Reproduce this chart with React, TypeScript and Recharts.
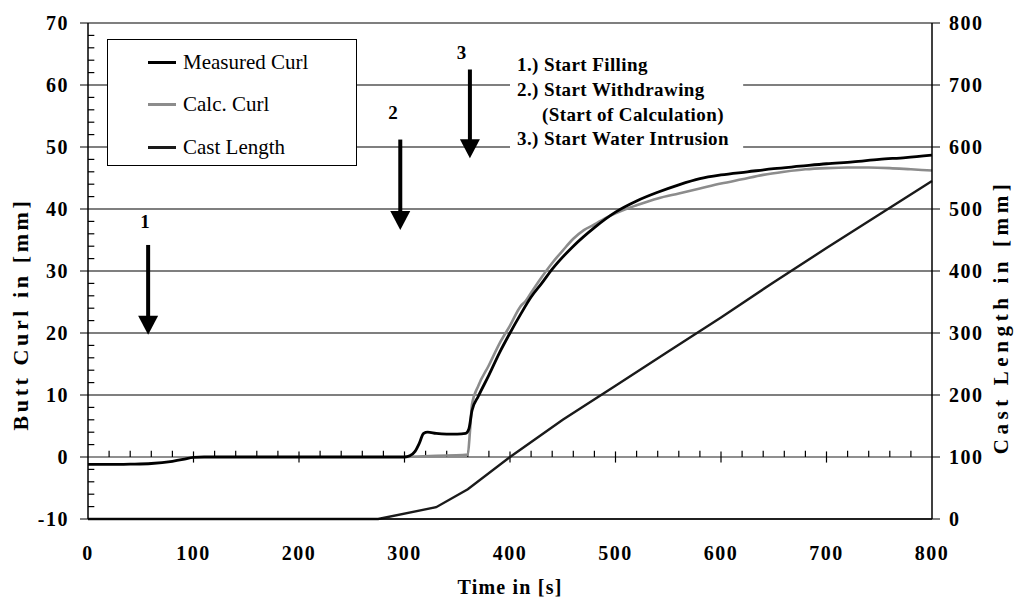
import React from "react"
import {
  ComposedChart,
  Line,
  XAxis,
  YAxis,
  CartesianGrid,
  ReferenceLine,
  ReferenceArea,
  ReferenceDot,
  Legend,
} from "recharts"

const FONT = '"Liberation Serif", "Times New Roman", serif'

// time axis [s]
const timeTicks = [0, 100, 200, 300, 400, 500, 600, 700, 800]
const curlTicks = [-10, 0, 10, 20, 30, 40, 50, 60, 70]
const lengthTicks = [0, 100, 200, 300, 400, 500, 600, 700, 800]

// Measured Curl [mm]
const measuredTime = [0, 20, 40, 60, 80, 90, 100, 110, 150, 200, 250, 300, 305, 310, 314, 318, 322, 330, 340, 350, 358, 361, 364, 370, 380, 390, 400, 410, 420, 430, 440, 460, 480, 500, 520, 540, 560, 580, 600, 625, 650, 675, 700, 725, 750, 775, 800]
const measuredCurl = [-1.2, -1.2, -1.15, -1.05, -0.7, -0.4, -0.05, 0, 0, 0, 0, 0, 0.2, 0.9, 2.2, 3.8, 4.0, 3.8, 3.7, 3.7, 3.8, 4.5, 7.5, 9.8, 13.2, 16.8, 20.0, 23.0, 25.8, 28.0, 30.3, 34.0, 37.0, 39.5, 41.3, 42.7, 43.9, 44.9, 45.5, 46.0, 46.5, 46.9, 47.3, 47.6, 48.0, 48.3, 48.7]

// Calc. Curl [mm]
const calcTime = [300, 330, 355, 360, 362, 364, 370, 380, 390, 400, 410, 415, 420, 430, 440, 450, 460, 470, 480, 490, 500, 510, 520, 540, 560, 580, 600, 620, 640, 660, 680, 700, 720, 740, 760, 780, 800]
const calcCurl = [0, 0.2, 0.3, 0.4, 4, 8.5, 11.5, 14.8, 18.3, 21.2, 24.3, 25.2, 26.5, 29, 31.3, 33.3, 35.2, 36.6, 37.5, 38.5, 39.3, 40.0, 40.6, 41.7, 42.5, 43.3, 44.1, 44.8, 45.5, 46.0, 46.4, 46.6, 46.7, 46.7, 46.6, 46.4, 46.2]

// Cast Length [mm]
const castTime = [0, 275, 330, 360, 400, 450, 500, 550, 600, 650, 700, 750, 800]
const castLength = [0, 0, 19, 48, 100, 160, 215, 270, 325, 382, 437, 491, 545]

// event arrows: number, time, shaft top, tip, label position
const arrowLabels = ["1", "2", "3"]
const arrowTime = [57, 296, 362]
const arrowTop = [34.2, 51.2, 62.5]
const arrowTip = [19.7, 36.6, 48.2]
const arrowLabelTime = [54, 289, 354]
const arrowLabelCurl = [38, 55.5, 65.2]

const notes = ["1.) Start Filling", "2.) Start Withdrawing", "(Start of Calculation)", "3.) Start Water Intrusion"]

const measuredData = measuredTime.map((t, i) => ({ t, v: measuredCurl[i] }))
const calcData = calcTime.map((t, i) => ({ t, v: calcCurl[i] }))
const castData = castTime.map((t, i) => ({ t, v: castLength[i] }))

const minorCurl: number[] = []
for (let v = -8; v < 70; v += 2) if (v % 10 !== 0) minorCurl.push(v)
const minorTime: number[] = []
for (let t = 20; t < 800; t += 20) if (t % 100 !== 0) minorTime.push(t)

const tickStyle = { fill: "#000", fontSize: 20, fontWeight: 700, fontFamily: FONT, letterSpacing: 1.5 }

function LegendBox({ payload }: any) {
  return (
    <div
      style={{
        width: 248,
        height: 125,
        border: "1px solid #000",
        background: "#fff",
        fontFamily: FONT,
        fontSize: 21,
        position: "relative",
      }}
    >
      {(payload || []).map((p: any, i: number) => (
        <div key={p.value} style={{ position: "absolute", left: 40, top: 22 + i * 42.5 - 12, display: "flex", alignItems: "center", height: 24 }}>
          <span style={{ display: "inline-block", width: 28, height: 0, borderTop: `3px solid ${p.color}` }} />
          <span style={{ marginLeft: 7, color: "#000", whiteSpace: "nowrap" }}>{p.value}</span>
        </div>
      ))}
    </div>
  )
}

function renderNotes(props: any) {
  const { x, y } = props.viewBox
  const rows = [
    { dx: 7, dy: 17 },
    { dx: 7, dy: 42 },
    { dx: 32, dy: 67 },
    { dx: 7, dy: 91 },
  ]
  return (
    <g>
      {notes.map((n, i) => (
        <text
          key={n}
          x={x + rows[i].dx}
          y={y + rows[i].dy}
          dominantBaseline="central"
          fontFamily={FONT}
          fontWeight={700}
          fontSize={19}
          letterSpacing={0.4}
          fill="#000"
        >
          {n}
        </text>
      ))}
    </g>
  )
}

export default function App() {
  return (
    <div style={{ position: "absolute", left: 0, top: 0, width: 1014, height: 603, background: "#fff" }}>
      <ComposedChart width={1014} height={603} margin={{ top: 23, right: 22, bottom: 34, left: 28 }}>
        <CartesianGrid
          yAxisId="left"
          vertical={false}
          horizontalValues={[-10, 10, 20, 30, 40, 50, 60, 70]}
          stroke="#000"
          strokeWidth={1.2}
        />
        <XAxis
          dataKey="t"
          type="number"
          domain={[0, 800]}
          ticks={timeTicks}
          allowDuplicatedCategory={false}
          tickLine={false}
          tickSize={0}
          tickMargin={27}
          height={50}
          axisLine={{ stroke: "#000", strokeWidth: 1.5 }}
          tick={tickStyle}
          label={(p: any) => {
            const vb = p.viewBox
            return (
              <text x={vb.x + vb.width / 2} y={587} textAnchor="middle" dominantBaseline="central" fontFamily={FONT} fontWeight={700} fontSize={20} letterSpacing={1.2} fill="#000">
                Time in [s]
              </text>
            )
          }}
        />
        <YAxis
          yAxisId="left"
          type="number"
          domain={[-10, 70]}
          ticks={curlTicks}
          width={60}
          tickSize={8}
          tickMargin={11}
          tickLine={{ stroke: "#000" }}
          axisLine={{ stroke: "#000", strokeWidth: 1.5 }}
          tick={tickStyle}
          label={() => (
            <text x={20} y={314} transform="rotate(-90, 20, 314)" textAnchor="middle" dominantBaseline="central" fontFamily={FONT} fontWeight={700} fontSize={22} letterSpacing={3.6} fill="#000">
              Butt Curl in [mm]
            </text>
          )}
        />
        <YAxis
          yAxisId="right"
          orientation="right"
          type="number"
          domain={[0, 800]}
          ticks={lengthTicks}
          width={60}
          tickSize={8}
          tickMargin={9}
          tickLine={{ stroke: "#000" }}
          axisLine={{ stroke: "#000", strokeWidth: 1.5 }}
          tick={tickStyle}
          label={() => (
            <text x={1001} y={317} transform="rotate(-90, 1001, 317)" textAnchor="middle" dominantBaseline="central" fontFamily={FONT} fontWeight={700} fontSize={21} letterSpacing={4.6} fill="#000">
              Cast Length in [mm]
            </text>
          )}
        />

        <ReferenceLine yAxisId="left" y={0} stroke="#6a6a6a" strokeWidth={1.5} />
        {minorTime.map((t) => (
          <ReferenceLine key={"mt" + t} yAxisId="left" segment={[{ x: t, y: 0 }, { x: t, y: 1 }]} stroke="#000" strokeWidth={1.2} />
        ))}
        {timeTicks.slice(1, -1).map((t) => (
          <ReferenceLine key={"Mt" + t} yAxisId="left" segment={[{ x: t, y: -0.9 }, { x: t, y: 0.9 }]} stroke="#000" strokeWidth={1.2} />
        ))}
        {minorCurl.map((v) => (
          <ReferenceLine key={"mc" + v} yAxisId="left" segment={[{ x: 0, y: v }, { x: 6, y: v }]} stroke="#000" strokeWidth={1.2} />
        ))}

        <ReferenceArea yAxisId="left" x1={400} x2={621} y1={49.5} y2={66} fill="#fff" fillOpacity={1} stroke="none" label={renderNotes} />

        {arrowLabels.map((a, i) => (
          <ReferenceLine
            key={"shaft" + a}
            yAxisId="left"
            segment={[{ x: arrowTime[i], y: arrowTop[i] }, { x: arrowTime[i], y: arrowTip[i] + 2 }]}
            stroke="#000"
            strokeWidth={4}
          />
        ))}
        {arrowLabels.map((a, i) => (
          <ReferenceDot
            key={"head" + a}
            yAxisId="left"
            x={arrowTime[i]}
            y={arrowTip[i]}
            r={1}
            shape={(p: any) => (
              <path d={`M${p.cx},${p.cy} L${p.cx - 10},${p.cy - 19} L${p.cx + 10},${p.cy - 19} Z`} fill="#000" />
            )}
          />
        ))}
        {arrowLabels.map((a, i) => (
          <ReferenceDot
            key={"lbl" + a}
            yAxisId="left"
            x={arrowLabelTime[i]}
            y={arrowLabelCurl[i]}
            r={1}
            shape={(p: any) => (
              <text x={p.cx} y={p.cy} textAnchor="middle" dominantBaseline="central" fontFamily={FONT} fontWeight={700} fontSize={19} fill="#000">
                {a}
              </text>
            )}
          />
        ))}

        <Line yAxisId="right" data={castData} dataKey="v" name="Cast Length" type="linear" stroke="#1a1a1a" strokeWidth={2.4} dot={false} isAnimationActive={false} />
        <Line yAxisId="left" data={calcData} dataKey="v" name="Calc. Curl" type="monotone" stroke="#8c8c8c" strokeWidth={2.6} dot={false} isAnimationActive={false} />
        <Line yAxisId="left" data={measuredData} dataKey="v" name="Measured Curl" type="monotone" stroke="#000" strokeWidth={2.8} dot={false} isAnimationActive={false} />

        <Legend
          layout="vertical"
          align="center"
          verticalAlign="middle"
          wrapperStyle={{ left: 107, top: 39, width: 250, height: 127 }}
          content={(p: any) => {
            const order = ["Measured Curl", "Calc. Curl", "Cast Length"]
            const items = [...(p.payload || [])].sort((a: any, b: any) => order.indexOf(a.value) - order.indexOf(b.value))
            return <LegendBox payload={items} />
          }}
        />
      </ComposedChart>
    </div>
  )
}
